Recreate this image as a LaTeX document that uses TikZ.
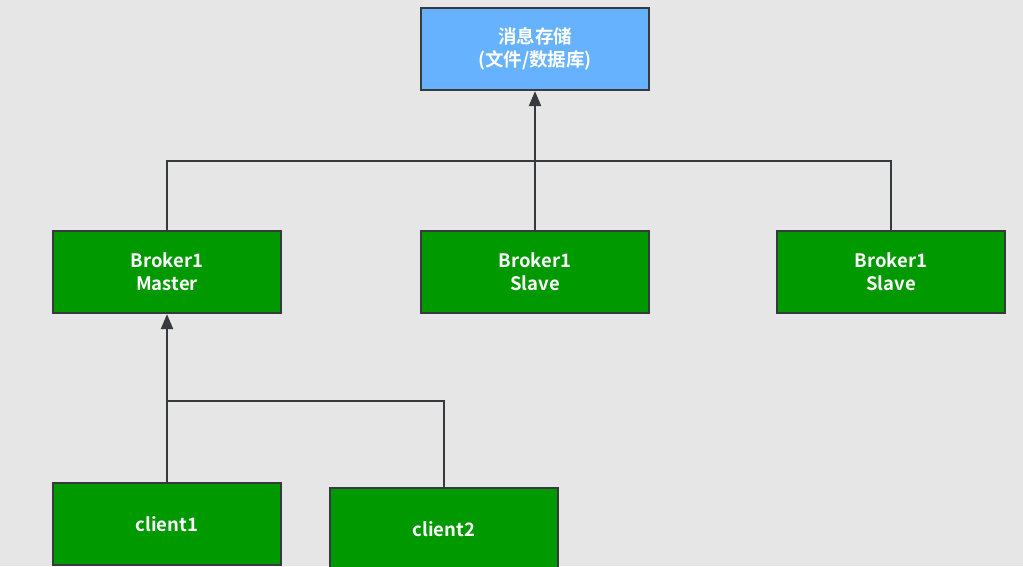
\documentclass[tikz,border=0pt]{standalone}
\usepackage{fontspec}
\setmainfont{Noto Sans CJK SC}[BoldFont={* Bold}]
\usetikzlibrary{arrows.meta}
\definecolor{bg}{HTML}{E6E6E6}
\definecolor{boxgreen}{HTML}{009900}
\definecolor{boxblue}{HTML}{66B2FF}
\definecolor{edge}{HTML}{36393D}
\begin{document}
\begin{tikzpicture}[x=1pt,y=-1pt,
  box/.style={draw=edge,line width=2.2pt,minimum width=228pt,minimum height=82pt,
    inner sep=0pt,text=white,font=\bfseries\fontsize{18.5}{23}\selectfont,align=center},
  gbox/.style={box,fill=boxgreen},
  bbox/.style={box,fill=boxblue},
  conn/.style={draw=edge,line width=2.2pt},
  arr/.style={conn,-{Triangle[width=12pt,length=15pt]}}]
\fill[bg] (0,0) rectangle (1023,566);
\useasboundingbox (0,0) rectangle (1023,566);
\node[bbox] (store) at (535,49) {消息存储\\(文件/数据库)};
\node[gbox] (master) at (167,272) {Broker1\\Master};
\node[gbox] (slave1) at (535,272) {Broker1\\Slave};
\node[gbox] (slave2) at (891,272) {Broker1\\Slave};
\node[gbox] (c1) at (167,524) {client1};
\node[gbox] (c2) at (444,529) {client2};
\coordinate (bus) at (535,161);
\coordinate (cbus) at (167,401);
\draw[arr] (slave1.north) -- (store.south);
\draw[conn] (master.north) |- (bus) -| (slave2.north);
\draw[arr] (c1.north) -- (master.south);
\draw[conn] (cbus) -| (c2.north);
\end{tikzpicture}
\end{document}
